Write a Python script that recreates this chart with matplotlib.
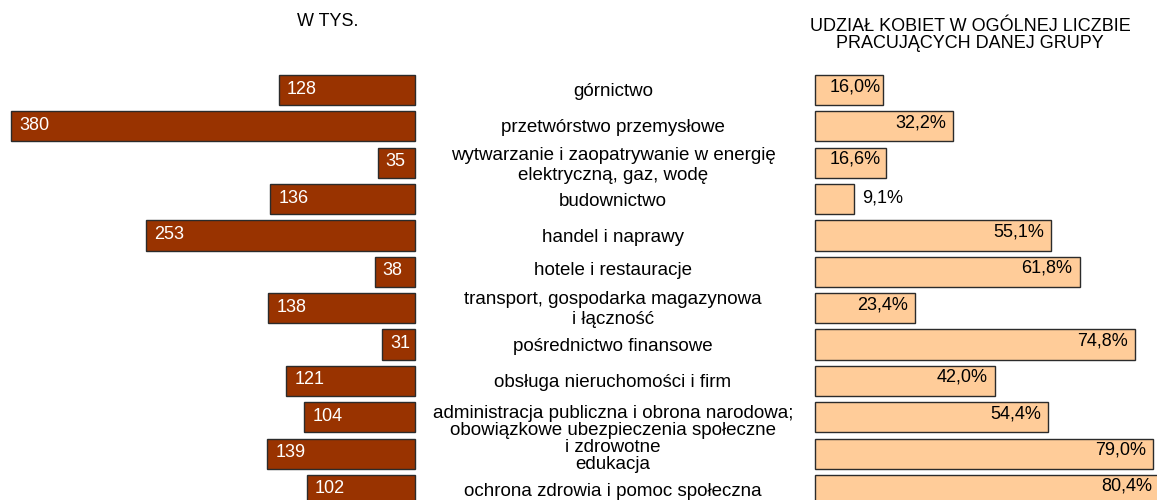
import matplotlib
matplotlib.use("Agg")
import matplotlib.pyplot as plt

plt.rcParams['font.family'] = ['Liberation Sans', 'DejaVu Sans']

categories = [
    "górnictwo",
    "przetwórstwo przemysłowe",
    "wytwarzanie i zaopatrywanie w energię\nelektryczną, gaz, wodę",
    "budownictwo",
    "handel i naprawy",
    "hotele i restauracje",
    "transport, gospodarka magazynowa\ni łączność",
    "pośrednictwo finansowe",
    "obsługa nieruchomości i firm",
    "administracja publiczna i obrona narodowa;\nobowiązkowe ubezpieczenia społeczne\ni zdrowotne",
    "edukacja",
    "ochrona zdrowia i pomoc społeczna",
]
women_thousands = [128, 380, 35, 136, 253, 38, 138, 31, 121, 104, 139, 102]
women_share = [16.0, 32.2, 16.6, 9.1, 55.1, 61.8, 23.4, 74.8, 42.0, 54.4, 79.0, 80.4]

title_left = "W TYS."
title_right = "UDZIAŁ KOBIET W OGÓLNEJ LICZBIE\nPRACUJĄCYCH DANEJ GRUPY"

# layout (pixels)
W, H = 1157, 500
row_pitch = 36.36
first_row = 90
label_shift = [2, 1, 3, 2, 2, -1, 1, 2, 2, 13, 11, 2]

fig = plt.figure(figsize=(W / 100, H / 100), dpi=100)
ylim = ((H - first_row) / row_pitch, -first_row / row_pitch)

axl = fig.add_axes([0, 0, 415 / W, 1])
axr = fig.add_axes([815 / W, 0, 342 / W, 1])
for ax in (axl, axr):
    ax.set_ylim(*ylim)
    ax.axis('off')
axl.set_xlim(415 / 1.063, 0)
axr.set_xlim(0, 342 / 4.28)

rows = list(range(len(categories)))
axl.barh(rows, women_thousands, height=0.83, color='#993300',
         edgecolor='#2b2b2b', linewidth=1, clip_on=False)
axr.barh(rows, women_share, height=0.83, color='#ffcc99',
         edgecolor='#2b2b2b', linewidth=1, clip_on=False)

for i, v in enumerate(women_thousands):
    axl.annotate(str(v), (v, i), xytext=(8, 1), textcoords='offset pixels',
                 ha='left', va='center', color='white', fontsize=13,
                 annotation_clip=False)

x0 = axr.transData.transform((0, 0))[0]
for i, v in enumerate(women_share):
    txt = f"{v:.1f}%".replace('.', ',')
    end = axr.transData.transform((v, 0))[0] - x0
    if v < 12:
        axr.annotate(txt, (v, i), xytext=(8, 1.5), textcoords='offset pixels',
                     ha='left', va='center', color='black', fontsize=13,
                     annotation_clip=False)
    else:
        dx = max(end - 7, 66) - end
        axr.annotate(txt, (v, i), xytext=(dx, 3.5), textcoords='offset pixels',
                     ha='right', va='center', color='black', fontsize=13,
                     annotation_clip=False)

for i, lab in enumerate(categories):
    nlines = lab.count('\n') + 1
    ls = 1.0 if nlines > 2 else 1.25
    axl.annotate(lab, (613 / W, i), xycoords=('figure fraction', 'data'),
                 xytext=(0, -label_shift[i]), textcoords='offset pixels',
                 ha='center', va='center', fontsize=13.5, linespacing=ls,
                 annotation_clip=False)

fig.text(328 / W, 1 - 22 / H, title_left, ha='center', va='center', fontsize=13)
fig.text(970 / W, 1 - 35 / H, title_right, ha='center', va='center',
         fontsize=13, linespacing=1.02)

fig.savefig("out.png", dpi=100)
